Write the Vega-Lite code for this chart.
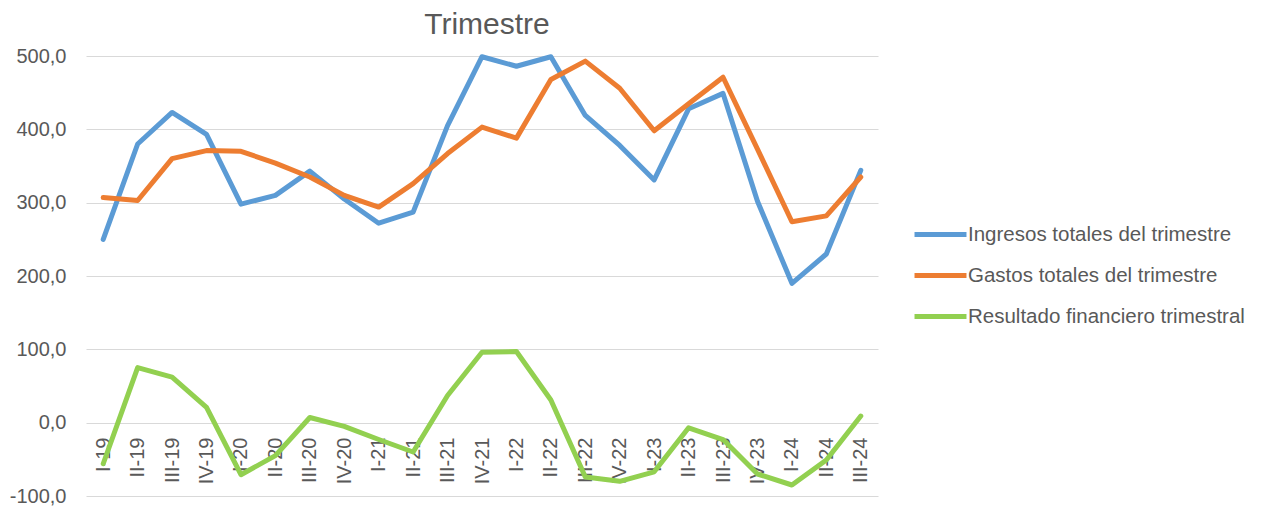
{
  "$schema": "https://vega.github.io/schema/vega-lite/v6.json",
  "width": 792,
  "height": 440,
  "autosize": {"type": "none"},
  "padding": {"left": 86, "top": 56, "right": 383, "bottom": 13},
  "background": "white",
  "config": {"view": {"stroke": null}},
  "title": {
    "text": "Trimestre",
    "fontSize": 30,
    "font": "Liberation Sans",
    "fontWeight": "normal",
    "color": "#595959",
    "anchor": "middle",
    "frame": "group",
    "baseline": "alphabetic",
    "offset": 0,
    "dx": 5,
    "dy": 18
  },
  "data": {
    "values": [
      {"trimestre": "I-19", "serie": "Ingresos totales del trimestre", "valor": 250},
      {"trimestre": "II-19", "serie": "Ingresos totales del trimestre", "valor": 380},
      {"trimestre": "III-19", "serie": "Ingresos totales del trimestre", "valor": 423},
      {"trimestre": "IV-19", "serie": "Ingresos totales del trimestre", "valor": 393},
      {"trimestre": "I-20", "serie": "Ingresos totales del trimestre", "valor": 298},
      {"trimestre": "II-20", "serie": "Ingresos totales del trimestre", "valor": 310},
      {"trimestre": "III-20", "serie": "Ingresos totales del trimestre", "valor": 343},
      {"trimestre": "IV-20", "serie": "Ingresos totales del trimestre", "valor": 305},
      {"trimestre": "I-21", "serie": "Ingresos totales del trimestre", "valor": 272},
      {"trimestre": "II-21", "serie": "Ingresos totales del trimestre", "valor": 287},
      {"trimestre": "III-21", "serie": "Ingresos totales del trimestre", "valor": 405},
      {"trimestre": "IV-21", "serie": "Ingresos totales del trimestre", "valor": 499},
      {"trimestre": "I-22", "serie": "Ingresos totales del trimestre", "valor": 486},
      {"trimestre": "II-22", "serie": "Ingresos totales del trimestre", "valor": 499},
      {"trimestre": "III-22", "serie": "Ingresos totales del trimestre", "valor": 419},
      {"trimestre": "IV-22", "serie": "Ingresos totales del trimestre", "valor": 378},
      {"trimestre": "I-23", "serie": "Ingresos totales del trimestre", "valor": 331},
      {"trimestre": "II-23", "serie": "Ingresos totales del trimestre", "valor": 428},
      {"trimestre": "III-23", "serie": "Ingresos totales del trimestre", "valor": 449},
      {"trimestre": "IV-23", "serie": "Ingresos totales del trimestre", "valor": 302},
      {"trimestre": "I-24", "serie": "Ingresos totales del trimestre", "valor": 190},
      {"trimestre": "II-24", "serie": "Ingresos totales del trimestre", "valor": 230},
      {"trimestre": "III-24", "serie": "Ingresos totales del trimestre", "valor": 344},
      {"trimestre": "I-19", "serie": "Gastos totales del trimestre", "valor": 307},
      {"trimestre": "II-19", "serie": "Gastos totales del trimestre", "valor": 303},
      {"trimestre": "III-19", "serie": "Gastos totales del trimestre", "valor": 360},
      {"trimestre": "IV-19", "serie": "Gastos totales del trimestre", "valor": 371},
      {"trimestre": "I-20", "serie": "Gastos totales del trimestre", "valor": 370},
      {"trimestre": "II-20", "serie": "Gastos totales del trimestre", "valor": 354},
      {"trimestre": "III-20", "serie": "Gastos totales del trimestre", "valor": 335},
      {"trimestre": "IV-20", "serie": "Gastos totales del trimestre", "valor": 310},
      {"trimestre": "I-21", "serie": "Gastos totales del trimestre", "valor": 294},
      {"trimestre": "II-21", "serie": "Gastos totales del trimestre", "valor": 326},
      {"trimestre": "III-21", "serie": "Gastos totales del trimestre", "valor": 367},
      {"trimestre": "IV-21", "serie": "Gastos totales del trimestre", "valor": 403},
      {"trimestre": "I-22", "serie": "Gastos totales del trimestre", "valor": 388},
      {"trimestre": "II-22", "serie": "Gastos totales del trimestre", "valor": 468},
      {"trimestre": "III-22", "serie": "Gastos totales del trimestre", "valor": 493},
      {"trimestre": "IV-22", "serie": "Gastos totales del trimestre", "valor": 456},
      {"trimestre": "I-23", "serie": "Gastos totales del trimestre", "valor": 398},
      {"trimestre": "II-23", "serie": "Gastos totales del trimestre", "valor": 435},
      {"trimestre": "III-23", "serie": "Gastos totales del trimestre", "valor": 471},
      {"trimestre": "IV-23", "serie": "Gastos totales del trimestre", "valor": 373},
      {"trimestre": "I-24", "serie": "Gastos totales del trimestre", "valor": 274},
      {"trimestre": "II-24", "serie": "Gastos totales del trimestre", "valor": 282},
      {"trimestre": "III-24", "serie": "Gastos totales del trimestre", "valor": 335},
      {"trimestre": "I-19", "serie": "Resultado financiero trimestral", "valor": -56},
      {"trimestre": "II-19", "serie": "Resultado financiero trimestral", "valor": 75},
      {"trimestre": "III-19", "serie": "Resultado financiero trimestral", "valor": 62},
      {"trimestre": "IV-19", "serie": "Resultado financiero trimestral", "valor": 21},
      {"trimestre": "I-20", "serie": "Resultado financiero trimestral", "valor": -71},
      {"trimestre": "II-20", "serie": "Resultado financiero trimestral", "valor": -45},
      {"trimestre": "III-20", "serie": "Resultado financiero trimestral", "valor": 7},
      {"trimestre": "IV-20", "serie": "Resultado financiero trimestral", "valor": -5},
      {"trimestre": "I-21", "serie": "Resultado financiero trimestral", "valor": -23},
      {"trimestre": "II-21", "serie": "Resultado financiero trimestral", "valor": -40},
      {"trimestre": "III-21", "serie": "Resultado financiero trimestral", "valor": 37},
      {"trimestre": "IV-21", "serie": "Resultado financiero trimestral", "valor": 96},
      {"trimestre": "I-22", "serie": "Resultado financiero trimestral", "valor": 97},
      {"trimestre": "II-22", "serie": "Resultado financiero trimestral", "valor": 31},
      {"trimestre": "III-22", "serie": "Resultado financiero trimestral", "valor": -74},
      {"trimestre": "IV-22", "serie": "Resultado financiero trimestral", "valor": -80},
      {"trimestre": "I-23", "serie": "Resultado financiero trimestral", "valor": -67},
      {"trimestre": "II-23", "serie": "Resultado financiero trimestral", "valor": -7},
      {"trimestre": "III-23", "serie": "Resultado financiero trimestral", "valor": -23},
      {"trimestre": "IV-23", "serie": "Resultado financiero trimestral", "valor": -70},
      {"trimestre": "I-24", "serie": "Resultado financiero trimestral", "valor": -85},
      {"trimestre": "II-24", "serie": "Resultado financiero trimestral", "valor": -51},
      {"trimestre": "III-24", "serie": "Resultado financiero trimestral", "valor": 9}
    ]
  },
  "mark": {"type": "line", "strokeWidth": 5, "strokeCap": "round", "strokeJoin": "round"},
  "encoding": {
    "x": {
      "field": "trimestre",
      "type": "ordinal",
      "sort": null,
      "scale": {"type": "point", "padding": 0.5},
      "axis": {
        "title": null,
        "orient": "bottom",
        "offset": -73,
        "domain": false,
        "ticks": false,
        "grid": false,
        "labelAngle": -90,
        "labelPadding": 14,
        "labelFont": "Liberation Sans",
        "labelFontSize": 20,
        "labelColor": "#595959"
      }
    },
    "y": {
      "field": "valor",
      "type": "quantitative",
      "scale": {"domain": [-100, 500], "nice": false, "zero": false},
      "axis": {
        "title": null,
        "values": [-100, 0, 100, 200, 300, 400, 500],
        "labelExpr": "replace(replace(format(datum.value, '.1f'), '.', ','), '\u2212', '-')",
        "domain": false,
        "ticks": false,
        "grid": true,
        "gridColor": "#D9D9D9",
        "gridWidth": 1.2,
        "labelPadding": 20,
        "labelFont": "Liberation Sans",
        "labelFontSize": 20,
        "labelColor": "#595959"
      }
    },
    "color": {
      "field": "serie",
      "type": "nominal",
      "sort": ["Ingresos totales del trimestre", "Gastos totales del trimestre", "Resultado financiero trimestral"],
      "scale": {
        "domain": ["Ingresos totales del trimestre", "Gastos totales del trimestre", "Resultado financiero trimestral"],
        "range": ["#5B9BD5", "#ED7D31", "#92D050"]
      },
      "legend": {
        "title": null,
        "orient": "none",
        "legendX": 826,
        "legendY": 150,
        "symbolType": "stroke",
        "symbolSize": 2700,
        "symbolStrokeWidth": 5,
        "labelOffset": -1,
        "rowPadding": 2,
        "labelFont": "Liberation Sans",
        "labelFontSize": 20.5,
        "labelColor": "#595959",
        "labelLimit": 400
      }
    }
  }
}
